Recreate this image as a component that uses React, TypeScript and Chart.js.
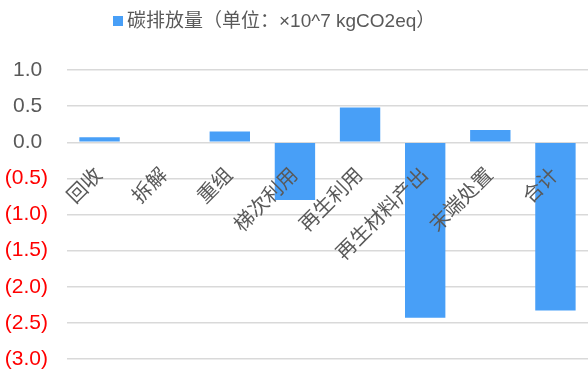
import React, { useEffect, useRef } from "react";
import { Chart, registerables } from "chart.js";

Chart.register(...registerables);

const categories = ["回收", "拆解", "重组", "梯次利用", "再生利用", "再生材料产出", "末端处置", "合计"];
const emissions = [0.07, 0, 0.15, -0.8, 0.48, -2.43, 0.17, -2.33];
const seriesLabel = "碳排放量（单位：×10^7 kgCO2eq）";
const yMin = -3;
const yMax = 1;
const yStep = 0.5;

const FONT = "'Liberation Sans', Arial, 'Noto Sans CJK SC', sans-serif";
const GREY_TEXT = "#595959";
const BAR = "#489FF7";

function formatTick(v: number): string {
  const s = Math.abs(v).toFixed(1);
  return v < 0 ? `(${s})` : `${s} `;
}

// Category names sit just under the zero line, rotated 45°, and are painted over the bars.
const categoryLabels = {
  id: "categoryLabels",
  afterDatasetsDraw(chart: any) {
    const { ctx, scales } = chart;
    const x = scales.x;
    const y = scales.y;
    const y0 = y.getPixelForValue(0);
    ctx.save();
    ctx.fillStyle = GREY_TEXT;
    ctx.font = `20px ${FONT}`;
    ctx.textAlign = "right";
    ctx.textBaseline = "middle";
    categories.forEach((name, i) => {
      const cx = x.getPixelForValue(i);
      ctx.save();
      ctx.translate(cx, y0 + 30);
      ctx.rotate(-Math.PI / 4);
      ctx.fillText(name, 0, 0);
      ctx.restore();
    });
    ctx.restore();
  },
};

// Single-entry legend above the plot: a small coloured square followed by the series name.
const seriesLegend = {
  id: "seriesLegend",
  afterDraw(chart: any) {
    const { ctx } = chart;
    const boxLeft = 113;
    const midY = 21;
    ctx.save();
    ctx.fillStyle = BAR;
    ctx.fillRect(boxLeft, midY - 5, 10, 10);
    ctx.fillStyle = GREY_TEXT;
    ctx.font = `19px ${FONT}`;
    ctx.textAlign = "left";
    ctx.textBaseline = "middle";
    ctx.fillText(chart.data.datasets[0].label, boxLeft + 14, midY + 1);
    ctx.restore();
  },
};

export default function App() {
  const ref = useRef<HTMLCanvasElement | null>(null);

  useEffect(() => {
    if (!ref.current) return;
    const chart = new Chart(ref.current, {
      type: "bar",
      data: {
        labels: categories,
        datasets: [
          {
            label: seriesLabel,
            data: emissions,
            backgroundColor: BAR,
            borderWidth: 0,
            barPercentage: 0.62,
            categoryPercentage: 1,
          },
        ],
      },
      options: {
        animation: false,
        responsive: false,
        maintainAspectRatio: false,
        layout: { padding: { left: 5, right: 0, top: 70, bottom: 15 } },
        plugins: {
          tooltip: { enabled: false },
          legend: { display: false },
        },
        scales: {
          x: {
            display: false,
            ticks: { display: false },
          },
          y: {
            min: yMin,
            max: yMax,
            grid: { color: "#D9D9D9", lineWidth: 1.5, drawTicks: false },
            border: { display: false },
            afterFit: (scale: any) => {
              // fixed axis width; the outer layout padding alone sets the plot's top and bottom
              scale.width = 62;
              scale.paddingTop = 0;
              scale.paddingBottom = 0;
            },
            ticks: {
              stepSize: yStep,
              padding: 19,
              font: { family: FONT, size: 21 },
              color: (ctx: any) => (ctx.tick && ctx.tick.value < 0 ? "#FF0000" : GREY_TEXT),
              callback: (v: any) => formatTick(Number(v)),
            },
          },
        },
      },
      plugins: [categoryLabels, seriesLegend],
    });
    return () => chart.destroy();
  }, []);

  return (
    <div style={{ position: "fixed", left: 0, top: 0, width: 588, height: 374, background: "#fff" }}>
      <canvas ref={ref} width={588} height={374} style={{ width: 588, height: 374 }} />
    </div>
  );
}
